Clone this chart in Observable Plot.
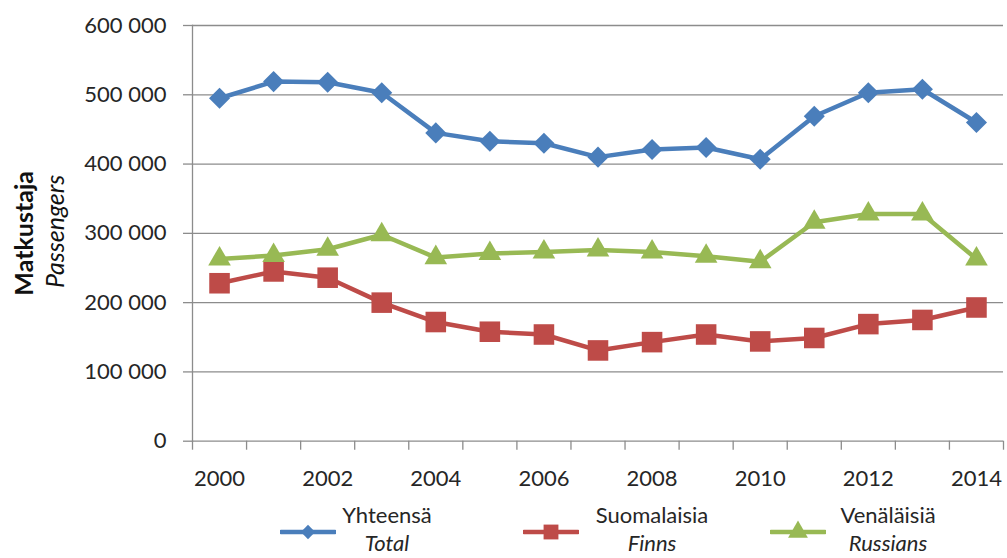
<!DOCTYPE html>
<html>
<head>
<meta charset="utf-8">
<script src="https://cdn.jsdelivr.net/npm/d3@7"></script>
<script src="https://cdn.jsdelivr.net/npm/@observablehq/plot@0.6"></script>
<style>
  html, body { margin: 0; padding: 0; background: white; }
  #wrap { width: 1007px; font-family: Lato, "Open Sans", sans-serif; color: #262626; }
  #legend { position: relative; width: 1007px; height: 62px; font-size: 22px; }
  .lab { position: absolute; top: 5px; line-height: 28px; text-align: center; transform: translateX(-50%); white-space: nowrap; }
  .lab i { font-style: italic; }
  .sym { position: absolute; top: 24px; }
</style>
</head>
<body>
<div id="wrap"></div>
<script>
// ---- data ----
const years = [2000, 2001, 2002, 2003, 2004, 2005, 2006, 2007, 2008, 2009, 2010, 2011, 2012, 2013, 2014];
const total = [495000, 519000, 518000, 503000, 445000, 433000, 430000, 410000, 421000, 424000, 407000, 469000, 503000, 508000, 460000];
const finns = [228000, 245000, 236000, 200000, 172000, 158000, 154000, 131000, 143000, 154000, 144000, 149000, 169000, 175000, 193000];
const russians = [263000, 268000, 277000, 298000, 265000, 271000, 273000, 276000, 273000, 267000, 259000, 316000, 328000, 328000, 263000];
const xTickLabels = [2000, 2002, 2004, 2006, 2008, 2010, 2012, 2014];
const yTicks = [0, 100000, 200000, 300000, 400000, 500000, 600000];
const seriesNames = [["Yhteensä", "Total"], ["Suomalaisia", "Finns"], ["Venäläisiä", "Russians"]];
const colors = ["#4a7ebb", "#be4b48", "#98b954"];
const symbols = ["diamond2", "square", "triangle"];

// ---- chart ----
const seriesValues = [total, finns, russians];
const rows = seriesValues.map(vals => years.map((yr, i) => ({year: yr, value: vals[i]})));
const boundaries = years.map(y => y - 0.5).concat([years[years.length - 1] + 0.5]);
const fmt = d => d3.format(",")(d).replace(/,/g, " ");
const grid = "#8c8c8c";
const radii = [9.5, 11.6, 8.4];

const marks = [
  Plot.gridY(yTicks, {stroke: grid, strokeOpacity: 1, strokeWidth: 1.3}),
  Plot.axisY(yTicks, {tickSize: 9, tickPadding: 17, tickFormat: fmt, stroke: grid, fill: "#262626", strokeWidth: 1.3, label: null}),
  Plot.frame({anchor: "left", stroke: grid, strokeWidth: 1.3}),
  Plot.axisX(boundaries, {tickSize: 9, tickFormat: () => "", stroke: grid, strokeWidth: 1.3, label: null}),
  Plot.axisX(xTickLabels, {tickSize: 0, tickPadding: 29, tickFormat: d => String(d), fill: "#262626", label: null}),
  Plot.text(["Matkustaja"], {frameAnchor: "left", textAnchor: "middle", dx: -168, rotate: -90, fontWeight: "bold", fontSize: 25, fill: "#111"}),
  Plot.text(["Passengers"], {frameAnchor: "left", textAnchor: "middle", dx: -137, dy: -2, rotate: -90, fontStyle: "italic", fontSize: 25, fill: "#111"})
];
rows.forEach((r, k) => {
  marks.push(Plot.line(r, {x: "year", y: "value", stroke: colors[k], strokeWidth: 4.5}));
  marks.push(Plot.dot(r, {x: "year", y: "value", symbol: symbols[k], r: radii[k], fill: colors[k], stroke: "none"}));
});

const chart = Plot.plot({
  width: 1007,
  height: 496,
  marginLeft: 192,
  marginRight: 4,
  marginTop: 25,
  marginBottom: 55.3,
  x: {domain: [1999.5, 2014.5]},
  y: {domain: [0, 600000]},
  style: {fontFamily: "Lato, 'Open Sans', sans-serif", fontSize: "22px", color: "#262626", background: "white"},
  marks
});
const wrap = document.getElementById("wrap");
wrap.appendChild(chart);

// ---- legend ----
const legend = document.createElement("div");
legend.id = "legend";
const symX = [280, 523, 770];
const labX = [387, 652, 888];
const legSize = [130, 220, 170];
const d3sym = {diamond2: d3.symbolDiamond2, square: d3.symbolSquare, triangle: d3.symbolTriangle};
seriesNames.forEach((names, k) => {
  const s = d3.create("svg").attr("class", "sym").attr("width", 56).attr("height", 24)
    .style("left", symX[k] + "px");
  s.append("line").attr("x1", 1).attr("x2", 55).attr("y1", 12).attr("y2", 12)
    .attr("stroke", colors[k]).attr("stroke-width", 4.5).attr("stroke-linecap", "round");
  s.append("path").attr("transform", "translate(28,12)")
    .attr("d", d3.symbol().type(d3sym[symbols[k]]).size(legSize[k])())
    .attr("fill", colors[k]);
  legend.appendChild(s.node());
  const lab = document.createElement("div");
  lab.className = "lab";
  lab.style.left = labX[k] + "px";
  lab.innerHTML = names[0] + "<br><i>" + names[1] + "</i>";
  legend.appendChild(lab);
});
wrap.appendChild(legend);
</script>
</body>
</html>
